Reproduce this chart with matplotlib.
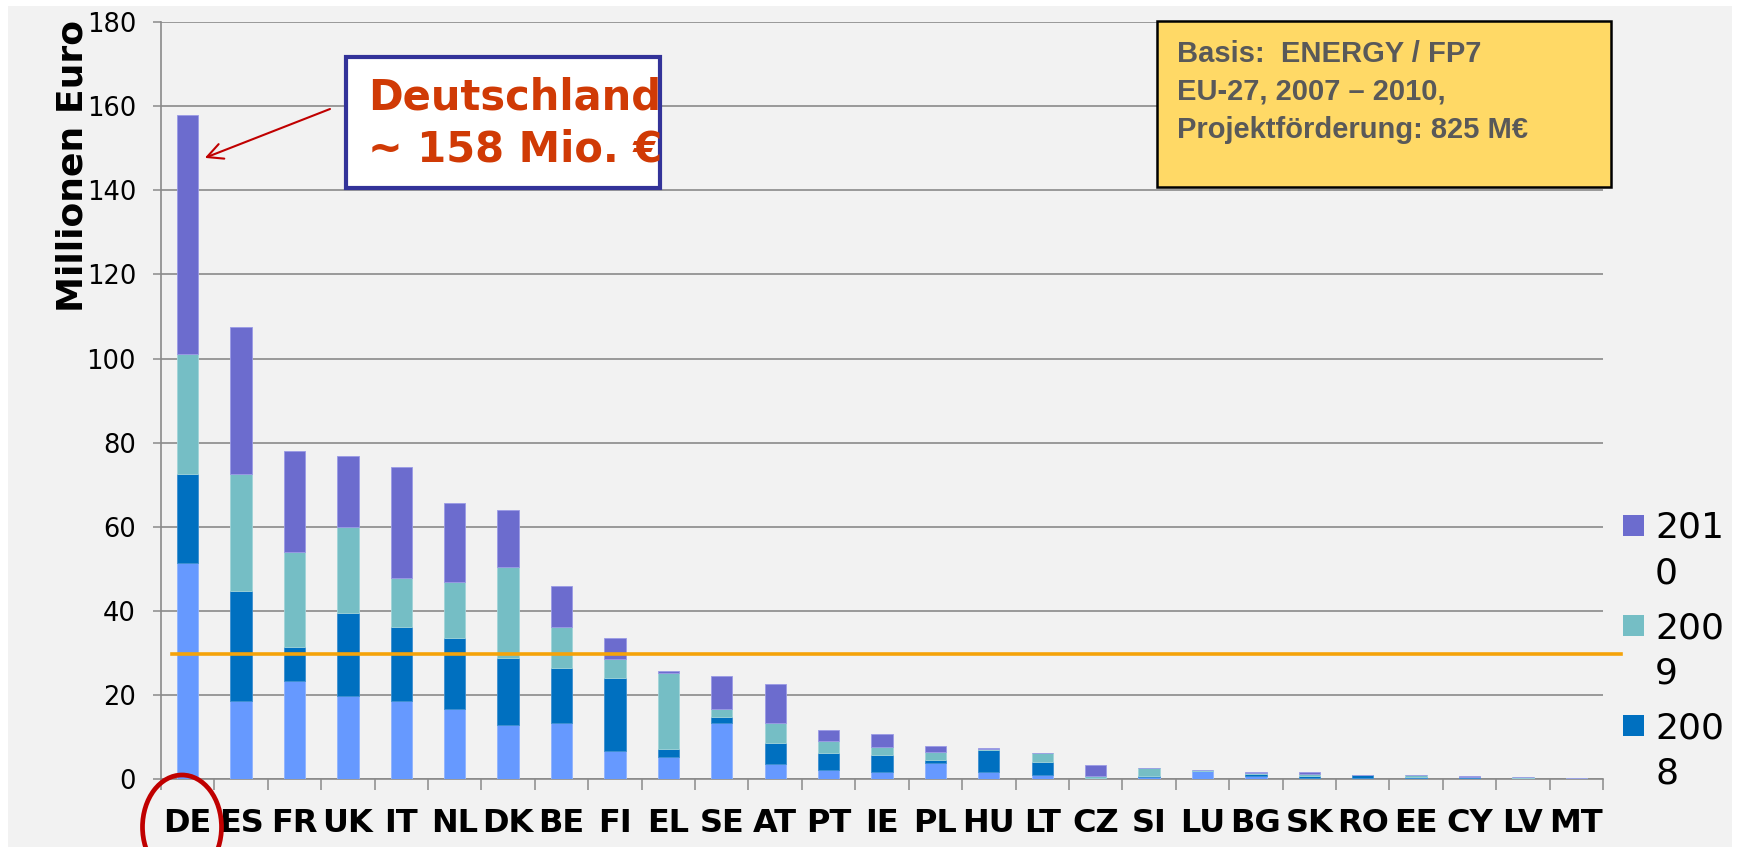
import matplotlib
matplotlib.use('Agg')
import matplotlib.pyplot as plt
from matplotlib.patches import Rectangle, Ellipse
import numpy as np

W, H = 1738, 847

countries = ['DE', 'ES', 'FR', 'UK', 'IT', 'NL', 'DK', 'BE', 'FI', 'EL', 'SE', 'AT', 'PT', 'IE',
             'PL', 'HU', 'LT', 'CZ', 'SI', 'LU', 'BG', 'SK', 'RO', 'EE', 'CY', 'LV', 'MT']
# Million euro per year (stacked)
v2007 = [51.4, 18.5, 23.3, 19.7, 18.7, 16.8, 13.0, 13.3, 6.8, 5.3, 13.3, 3.7, 2.3, 1.7,
         3.8, 1.7, 1.1, 0.1, 0.6, 2.0, 0.8, 0.2, 0.3, 0.4, 0.2, 0.2, 0.0]
v2008 = [21.1, 26.2, 8.1, 19.8, 17.5, 16.8, 15.8, 13.1, 17.2, 1.8, 1.6, 5.0, 4.0, 4.0,
         0.9, 5.2, 3.0, 0.1, 0.3, 0.0, 0.55, 0.7, 0.7, 0.1, 0.3, 0.2, 0.0]
v2009 = [28.7, 27.8, 22.6, 20.4, 11.6, 13.4, 21.6, 9.9, 4.5, 18.2, 1.9, 4.8, 2.9, 2.0,
         1.8, 0.2, 2.1, 0.7, 1.7, 0.1, 0.15, 0.45, 0.05, 0.5, 0.1, 0.15, 0.3]
v2010 = [56.8, 35.1, 24.0, 16.9, 26.4, 18.6, 13.5, 9.6, 5.0, 0.5, 7.7, 9.1, 2.5, 3.1,
         1.4, 0.3, 0.0, 2.6, 0.1, 0.0, 0.25, 0.35, 0.05, 0.05, 0.2, 0.05, 0.0]
years = ['2007', '2008', '2009', '2010']
series = [v2007, v2008, v2009, v2010]
colors = ['#6699ff', '#0070c0', '#75bec5', '#6c6cce']
edge_colors = ['#8fb3ff', '#3d8fd0', '#a0d4d8', '#9a9ae6']
threshold = 29.8
yticks = list(range(0, 181, 20))


def fx(x):
	return x / W


def fy(y):
	return 1 - y / H


fig = plt.figure(figsize=(W / 100, H / 100), dpi=100, facecolor='white')
# grey slide background
fig.patches.append(Rectangle((fx(8), 0), fx(1732 - 8), fy(6), transform=fig.transFigure,
	facecolor='#f2f2f2', edgecolor='none', zorder=-10))

ax = fig.add_axes([fx(161), fy(779.3), fx(1603 - 161), (779.3 - 22) / H])
ax.set_facecolor('none')

x = np.arange(len(countries))
bottom = np.zeros(len(countries))
bars = {}
for yr, vals, c, ec in zip(years, series, colors, edge_colors):
	bars[yr] = ax.bar(x, vals, bottom=bottom, width=0.4, color=c, edgecolor=ec,
		linewidth=0.6, zorder=3)
	bottom += np.array(vals)

ax.plot([-0.29, 26.84], [threshold, threshold], color='#f5a30a', linewidth=2.6,
	zorder=4, clip_on=False)

ax.set_xlim(-0.5, len(countries) - 0.5)
ax.set_ylim(0, 180)
ax.set_yticks(yticks)
ax.set_yticklabels([str(t) for t in yticks], fontsize=18.5)
ax.yaxis.grid(True, color='#8a8a8a', linewidth=1.2, zorder=0)
ax.set_axisbelow(True)
ax.tick_params(axis='y', length=6, width=1.1, color='#8a8a8a', pad=12)

ax.set_xticks(x)
ax.set_xticklabels(countries, fontsize=23, fontweight='bold')
ax.set_xticks(np.arange(-0.5, len(countries)), minor=True)
ax.tick_params(axis='x', which='major', length=0, pad=21)
ax.tick_params(axis='x', which='minor', length=8, width=1.1, color='#8a8a8a')

for s in ['top', 'right']:
	ax.spines[s].set_visible(False)
for s in ['left', 'bottom']:
	ax.spines[s].set_color('#8a8a8a')
	ax.spines[s].set_linewidth(1.2)

fig.text(fx(72.5), fy(20), 'Millionen Euro', rotation=90, ha='center', va='top',
	fontsize=26, fontweight='bold')

# Deutschland callout
fig.patches.append(Rectangle((fx(346), fy(188)), fx(660 - 346), (188 - 57) / H,
	transform=fig.transFigure, facecolor='white', edgecolor='#333399', linewidth=3, zorder=5))
fig.text(fx(368), fy(110), 'Deutschland', fontsize=30, fontweight='bold',
	color='#d03a05', va='baseline', zorder=6)
fig.text(fx(368), fy(162), '~ 158 Mio. \u20ac', fontsize=30, fontweight='bold',
	color='#d03a05', va='baseline', zorder=6)
ax.annotate('', xy=(0.32, 147.7), xycoords='data',
	xytext=(330, H - 109), textcoords='figure pixels',
	arrowprops=dict(arrowstyle='->', color='#c00000', linewidth=1.5,
		mutation_scale=28, shrinkA=0, shrinkB=0), zorder=6)

# info box
fig.patches.append(Rectangle((fx(1157), fy(187)), fx(1611 - 1157), (187 - 21) / H,
	transform=fig.transFigure, facecolor='#ffd966', edgecolor='black', linewidth=1.8, zorder=5))
info = ['Basis:  ENERGY / FP7', 'EU-27, 2007 \u2013 2010,', 'Projektf\u00f6rderung: 825 M\u20ac']
for i, line in enumerate(info):
	fig.text(fx(1177), fy(62 + 38 * i), line, fontsize=21, fontweight='bold',
		family='Liberation Sans', color='#595959', va='baseline', zorder=6)

# legend (labels wrap in the original)
leg_items = [('2010', '201', '0'), ('2009', '200', '9'), ('2008', '200', '8')]
for i, (yr, l1, l2) in enumerate(leg_items):
	y0 = 515 + 100 * i
	fig.patches.append(Rectangle((fx(1623), fy(y0 + 21)), fx(21), 21 / H,
		transform=fig.transFigure, facecolor=colors[years.index(yr)], edgecolor='none'))
	fig.text(fx(1655), fy(y0 + 23), l1, fontsize=26, va='baseline')
	fig.text(fx(1655), fy(y0 + 68), l2, fontsize=26, va='baseline')

# red circle around DE
fig.patches.append(Ellipse((fx(182), fy(827)), fx(79), 104 / H, transform=fig.transFigure,
	facecolor='none', edgecolor='#c00000', linewidth=3.4, zorder=7))

fig.savefig('out.png', dpi=100)
